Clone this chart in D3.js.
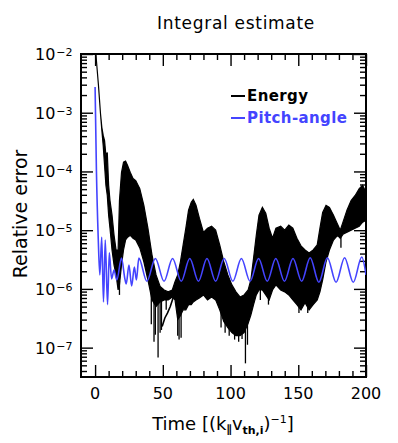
<!DOCTYPE html>
<html>
<head>
<meta charset="utf-8">
<script src="https://cdn.jsdelivr.net/npm/d3@7"></script>
<style>
  body { margin: 0; background: #fff; }
  text { font-family: "DejaVu Sans", sans-serif; fill: #000; }
</style>
</head>
<body>
<div id="chart"></div>
<script>
var svgWidth = 398;
var svgHeight = 443;

var margin = { top: 54, right: 32, bottom: 66, left: 81 };
var width = svgWidth - margin.left - margin.right;
var height = svgHeight - margin.top - margin.bottom;

// energy error: fast oscillation, kept as upper / lower envelope of the band
var energyTime = [0.3, 1, 2.5, 4, 5, 6, 7, 8, 9, 10, 11, 12.5, 14, 15.5, 17, 18, 19.5, 21, 22.5, 24, 26, 28, 30, 33, 36, 39, 42, 45, 48, 51, 54, 57, 59, 61, 63, 65, 67, 69, 71, 72.5, 74.5, 77, 80, 83, 86, 89, 92, 95, 98, 101, 104, 107, 110, 113, 115, 117, 119, 121, 123.5, 126, 128.5, 131, 133.5, 137, 140, 143, 146, 149, 152, 155, 158, 161, 164, 166, 168, 170.5, 173, 176, 179, 181, 183, 186, 189, 192, 195, 197.5, 200];
var energyUpper = [1.2e-2, 7.6e-3, 2.9e-3, 9.6e-4, 5.6e-4, 4.1e-4, 3.35e-4, 1.87e-4, 2.1e-4, 5.8e-5, 3.2e-5, 1.8e-5, 8.2e-6, 4.6e-6, 4.6e-6, 3.2e-5, 9.6e-5, 1.44e-4, 1.5e-4, 1.26e-4, 9.6e-5, 7.6e-5, 7.0e-5, 5.1e-5, 2.65e-5, 1.08e-5, 3.8e-6, 1.73e-6, 1.1e-6, 9.6e-7, 8.9e-7, 9.6e-7, 1.32e-6, 1.73e-6, 2.9e-6, 5.6e-6, 1.08e-5, 2.2e-5, 3.0e-5, 3.35e-5, 2.65e-5, 1.6e-5, 9.2e-6, 1.08e-5, 1.17e-5, 1.0e-5, 5.6e-6, 2.9e-6, 1.73e-6, 1.17e-6, 8.9e-7, 7.3e-7, 7.9e-7, 9.6e-7, 1.42e-6, 3.35e-6, 8.2e-6, 1.8e-5, 2.45e-5, 1.94e-5, 1.08e-5, 7.3e-6, 1.08e-5, 1.17e-5, 1.0e-5, 1.22e-5, 1.08e-5, 7.3e-6, 5.4e-6, 4.6e-6, 4.1e-6, 4.6e-6, 5.6e-6, 1.08e-5, 2.0e-5, 2.65e-5, 2.45e-5, 1.8e-5, 1.26e-5, 1.0e-5, 1.37e-5, 2.2e-5, 3.2e-5, 3.9e-5, 5.1e-5, 5.8e-5, 4.4e-5];
var energyLower = [1.2e-2, 7.6e-3, 2.9e-3, 9.6e-4, 5.0e-4, 2.75e-4, 1.26e-4, 5.8e-5, 3.9e-5, 1.8e-5, 1.08e-5, 4.6e-6, 2.55e-6, 1.73e-6, 9.6e-7, 1.17e-6, 2.55e-6, 4.6e-6, 6.8e-6, 7.6e-6, 8.2e-6, 7.3e-6, 6.8e-6, 5.0e-6, 2.9e-6, 1.42e-6, 6.5e-7, 5.0e-7, 6.0e-7, 6.5e-7, 6.5e-7, 7.3e-7, 6.5e-7, 3.0e-7, 3.5e-7, 4.4e-7, 4.4e-7, 5.4e-7, 5.4e-7, 6.0e-7, 6.5e-7, 7.0e-7, 7.9e-7, 6.5e-7, 7.3e-7, 6.5e-7, 4.4e-7, 2.8e-7, 2.2e-7, 1.8e-7, 1.6e-7, 1.6e-7, 1.8e-7, 2.6e-7, 3.6e-7, 5.4e-7, 7.9e-7, 9.6e-7, 9.6e-7, 7.9e-7, 6.5e-7, 9.6e-7, 1.17e-6, 9.6e-7, 8.9e-7, 7.9e-7, 6.5e-7, 5.4e-7, 4.4e-7, 5.8e-7, 4.4e-7, 5.4e-7, 6.5e-7, 8.9e-7, 1.42e-6, 2.9e-6, 4.6e-6, 6.8e-6, 8.2e-6, 7.3e-6, 8.5e-6, 9.2e-6, 1.0e-5, 1.08e-5, 1.17e-5, 1.37e-5, 1.48e-5];

// deepest downward spikes of the energy band
var spikeTime = [18, 41.5, 43.5, 44.5, 46.5, 48, 49, 52.5, 61, 62, 63.5, 93, 96, 99, 103, 106, 108.5, 111, 112.5, 122, 128, 150.5, 157, 181.5];
var spikeValue = [7.9e-7, 2.5e-7, 1.26e-7, 1.66e-7, 6.8e-8, 1.8e-7, 2.0e-7, 4.4e-7, 1.6e-7, 1.37e-7, 1.48e-7, 2.2e-7, 1.8e-7, 1.6e-7, 1.37e-7, 1.26e-7, 1.4e-7, 5.4e-8, 1.12e-7, 6.5e-7, 5.4e-7, 3.9e-7, 3.9e-7, 5.0e-6];

// thin low trace between the first two humps
var traceTime = [49.5, 51.5, 53.5, 55.5, 57.8];
var traceValue = [2.3e-7, 3.2e-7, 3.9e-7, 5.0e-7, 7.3e-7];

// pitch-angle error
var pitchTime = [0, 1, 2.3, 3.5, 4.9, 6.2, 7.5, 9.2, 10.5, 12.2, 14, 16, 19.5, 22, 23, 25, 27, 29, 30.5, 32.3, 38.2, 44.5, 50.9, 57.2, 63.6, 69.9, 76.3, 82.6, 89, 95.3, 101.7, 108, 114.4, 120.7, 127.1, 133.4, 139.8, 146.1, 152.5, 158.8, 165.2, 171.5, 177.9, 184.2, 190.6, 196.9, 200];
var pitchValue = [2.75e-3, 1.0e-4, 7.6e-6, 1.73e-6, 7.6e-6, 6.0e-7, 6.8e-6, 5.4e-7, 4.1e-6, 1.48e-6, 2.1e-6, 1.42e-6, 3.35e-6, 1.48e-6, 1.22e-6, 2.55e-6, 1.12e-6, 2.36e-6, 1.42e-6, 3.35e-6, 1.35e-6, 3.3e-6, 1.35e-6, 3.3e-6, 1.35e-6, 3.3e-6, 1.35e-6, 3.3e-6, 1.35e-6, 3.3e-6, 1.35e-6, 3.3e-6, 1.35e-6, 3.3e-6, 1.35e-6, 3.3e-6, 1.35e-6, 3.3e-6, 1.35e-6, 3.4e-6, 1.3e-6, 3.4e-6, 1.3e-6, 3.4e-6, 1.3e-6, 3.5e-6, 1.73e-6];

var xMajor = [0, 50, 100, 150, 200];
var yMajorExp = [-2, -3, -4, -5, -6, -7];

var svg = d3.select("#chart")
  .append("svg")
  .attr("width", svgWidth)
  .attr("height", svgHeight);

var chartGroup = svg.append("g")
  .attr("transform", `translate(${margin.left}, ${margin.top})`);

var xScale = d3.scaleLinear().domain([-10.4, 200]).range([0, width]);
var yScale = d3.scaleLog().domain([Math.pow(10, -7.5), 1e-2]).range([height, 0]);

// tick values
var xMinor = d3.range(0, 201, 10).filter(d => xMajor.indexOf(d) < 0);
var yMajor = yMajorExp.map(e => Math.pow(10, e));
var yMinor = [];
for (var e = -8; e <= -3; e++) {
  for (var k = 2; k <= 9; k++) {
    var v = k * Math.pow(10, e);
    if (v >= yScale.domain()[0] && v <= 1e-2) yMinor.push(v);
  }
}

function drawTicks(axis, vals, size, transform) {
  chartGroup.append("g")
    .attr("transform", transform)
    .call(axis.tickValues(vals).tickSize(size).tickFormat(""))
    .call(g => g.select(".domain").remove())
    .call(g => g.selectAll("line").attr("stroke", "#000").attr("stroke-width", 1.4));
}

// inward ticks on all four sides
drawTicks(d3.axisRight(yScale), yMajor, 12, "translate(0,0)");
drawTicks(d3.axisRight(yScale), yMinor, 6, "translate(0,0)");
drawTicks(d3.axisLeft(yScale), yMajor, 12, `translate(${width},0)`);
drawTicks(d3.axisLeft(yScale), yMinor, 6, `translate(${width},0)`);
drawTicks(d3.axisTop(xScale), xMajor, 12, `translate(0,${height})`);
drawTicks(d3.axisTop(xScale), xMinor, 6, `translate(0,${height})`);
drawTicks(d3.axisBottom(xScale), xMajor, 12, "translate(0,0)");
drawTicks(d3.axisBottom(xScale), xMinor, 6, "translate(0,0)");

// data
svg.append("clipPath").attr("id", "plotClip")
  .append("rect").attr("x", margin.left).attr("y", margin.top)
  .attr("width", width).attr("height", height);

var plot = svg.append("g").attr("clip-path", "url(#plotClip)")
  .append("g").attr("transform", `translate(${margin.left}, ${margin.top})`);

var energyData = energyTime.map((t, i) => ({ t: t, hi: energyUpper[i], lo: energyLower[i] }));
var energyArea = d3.area()
  .x(d => xScale(d.t))
  .y0(d => yScale(d.lo))
  .y1(d => yScale(d.hi));

plot.append("path")
  .datum(energyData)
  .attr("d", energyArea)
  .attr("fill", "#000")
  .attr("stroke", "#000")
  .attr("stroke-width", 1.2);

var lowerAt = d3.scaleLinear().domain(energyTime).range(energyLower);
var spikeData = spikeTime.map((t, i) => ({ t: t, v: spikeValue[i] }));
plot.selectAll(".spike")
  .data(spikeData)
  .enter()
  .append("line")
  .attr("class", "spike")
  .attr("x1", d => xScale(d.t))
  .attr("x2", d => xScale(d.t))
  .attr("y1", d => yScale(lowerAt(d.t)) - 4)
  .attr("y2", d => yScale(d.v))
  .attr("stroke", "#000")
  .attr("stroke-width", 1.3);

var traceData = traceTime.map((t, i) => ({ t: t, v: traceValue[i] }));
plot.append("path")
  .datum(traceData)
  .attr("d", d3.line().x(d => xScale(d.t)).y(d => yScale(d.v)))
  .attr("fill", "none")
  .attr("stroke", "#000")
  .attr("stroke-width", 1.6);

var pitchData = pitchTime.map((t, i) => ({ t: t, v: pitchValue[i] }));
var pitchLine = d3.line()
  .x(d => xScale(d.t))
  .y(d => yScale(d.v))
  .curve(d3.curveMonotoneX);

plot.append("path")
  .datum(pitchData)
  .attr("d", pitchLine)
  .attr("fill", "none")
  .attr("stroke", "#4444ff")
  .attr("stroke-width", 1.6);

// frame
chartGroup.append("rect")
  .attr("width", width)
  .attr("height", height)
  .attr("fill", "none")
  .attr("stroke", "#000")
  .attr("stroke-width", 2);

// tick labels
chartGroup.selectAll(".xLabel")
  .data(xMajor)
  .enter()
  .append("text")
  .attr("class", "xLabel")
  .attr("x", d => xScale(d))
  .attr("y", height + 22)
  .attr("text-anchor", "middle")
  .attr("font-size", "16px")
  .text(d => d);

var yLabels = chartGroup.selectAll(".yLabel")
  .data(yMajorExp)
  .enter()
  .append("text")
  .attr("class", "yLabel")
  .attr("x", -46)
  .attr("y", d => yScale(Math.pow(10, d)) + 6)
  .attr("font-size", "16px");
yLabels.append("tspan").text("10");
yLabels.append("tspan")
  .attr("dx", 1)
  .attr("dy", -4)
  .attr("font-size", "11px")
  .text(d => "\u2212" + (-d));

// axis titles
svg.append("text")
  .attr("x", 236)
  .attr("y", 29)
  .attr("text-anchor", "middle")
  .attr("font-size", "17px")
  .attr("letter-spacing", "0.7px")
  .text("Integral estimate");

svg.append("text")
  .attr("transform", "rotate(-90)")
  .attr("x", -214)
  .attr("y", 27)
  .attr("text-anchor", "middle")
  .attr("font-size", "19px")
  .text("Relative error");

var xTitle = svg.append("text")
  .attr("x", 223)
  .attr("y", 430)
  .attr("text-anchor", "middle")
  .attr("font-size", "18px");
xTitle.append("tspan").text("Time [(k");
xTitle.append("tspan").attr("font-size", "11px").attr("dy", 3).attr("font-weight", "bold").text("\u2225");
xTitle.append("tspan").attr("dy", -3).text("v");
xTitle.append("tspan").attr("font-size", "11px").attr("dy", 4).attr("font-weight", "bold").text("th,i");
xTitle.append("tspan").attr("dy", -4).text(")");
xTitle.append("tspan").attr("font-size", "11px").attr("dy", -7).text("\u22121");
xTitle.append("tspan").attr("dy", 7).text("]");

// legend
var legendNames = ["Energy", "Pitch-angle"];
var legendColors = ["#000", "#4444ff"];
var legend = svg.selectAll(".legend")
  .data(legendNames)
  .enter()
  .append("g")
  .attr("class", "legend")
  .attr("transform", (d, i) => `translate(231, ${96 + i * 22})`);
legend.append("line")
  .attr("x1", 0).attr("x2", 14)
  .attr("stroke", (d, i) => legendColors[i])
  .attr("stroke-width", 2);
legend.append("text")
  .attr("x", 16)
  .attr("y", 5)
  .attr("font-family", "Liberation Sans, sans-serif")
  .attr("font-weight", "bold")
  .attr("font-size", "15px")
  .attr("letter-spacing", "0.4px")
  .style("fill", (d, i) => legendColors[i])
  .text(d => d);
</script>
</body>
</html>
